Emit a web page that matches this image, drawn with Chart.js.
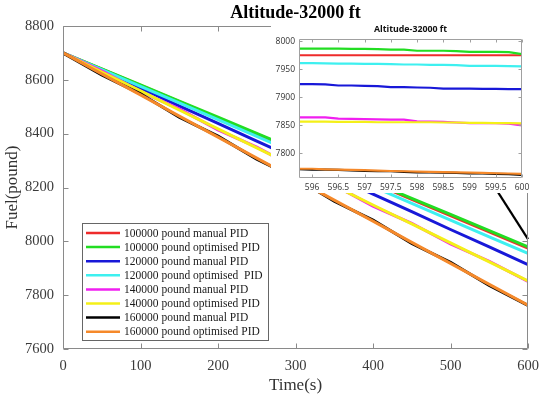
<!DOCTYPE html>
<html><head><meta charset="utf-8">
<script src="https://cdn.jsdelivr.net/npm/chart.js@4.4.0/dist/chart.umd.min.js"></script>
<style>
html,body{margin:0;padding:0;background:#fff;}
#wrap{position:relative;width:550px;height:396px;overflow:hidden;}
#main{position:absolute;left:0;top:0;width:550px;height:396px;}
#inset{position:absolute;left:271px;top:23px;width:279px;height:170px;background:#fff;}
</style></head><body>
<div id="wrap"><canvas id="main" width="550" height="396"></canvas><canvas id="inset" width="279" height="170"></canvas></div>
<script>
// ---- main chart data (time in s, fuel in pound) ----
const timeMain = [0, 50, 100, 150, 200, 250, 300, 350, 400, 450, 500, 550, 600];
const red100kManual    = [8700, 8640, 8579, 8519, 8458, 8398, 8338, 8277, 8217, 8156, 8096, 8035, 7975];
const green100kOpt     = [8700, 8641, 8581, 8521, 8461, 8401, 8341, 8280, 8220, 8160, 8100, 8040, 7979];
const blue120kManual   = [8700, 8634, 8569, 8503, 8438, 8372, 8307, 8241, 8175, 8110, 8044, 7979, 7913];
const cyan120kOpt      = [8700, 8638, 8576, 8514, 8452, 8390, 8328, 8265, 8203, 8141, 8079, 8017, 7955];
const magenta140kManual= [8700, 8633, 8556, 8492, 8414, 8350, 8273, 8209, 8131, 8067, 7990, 7926, 7851];
const yellow140kOpt    = [8700, 8629, 8559, 8488, 8418, 8347, 8277, 8206, 8135, 8065, 7994, 7924, 7853];
const black160kManual  = [8700, 8618, 8548, 8461, 8391, 8305, 8235, 8149, 8079, 7992, 7922, 7836, 7762];
const orange160kOpt    = [8700, 8622, 8544, 8465, 8387, 8309, 8231, 8153, 8075, 7996, 7918, 7840, 7763];
const mainXTicks = [0, 100, 200, 300, 400, 500, 600];
const mainYTicks = [7600, 7800, 8000, 8200, 8400, 8600, 8800];
// zoom pointer line (main chart coordinates)
const pointerX = [561, 600];
const pointerY = [8184, 8008];

// ---- inset data (zoom on 595.75 .. 600 s) ----
const timeInset = [595.75, 596, 596.25, 596.5, 596.75, 597, 597.25, 597.5, 597.75, 598, 598.25, 598.5, 598.75, 599, 599.25, 599.5, 599.75, 600];
const redInset     = [7975, 7975, 7975, 7975, 7975, 7975, 7975, 7975, 7975, 7975, 7975, 7975, 7975, 7975, 7975, 7975, 7975, 7975];
const greenInset   = [7987, 7987, 7987, 7987, 7986.5, 7986.5, 7986, 7985, 7985, 7983, 7983, 7983, 7982.5, 7981, 7981, 7981, 7980.5, 7977];
const blueInset    = [7923.5, 7923.5, 7923, 7921, 7921, 7920.5, 7920, 7918, 7918, 7917.5, 7917, 7915.5, 7915.5, 7915.5, 7915, 7915, 7914.5, 7914.5];
const cyanInset    = [7961, 7961, 7960.5, 7960, 7960, 7959.5, 7959.5, 7959, 7958.5, 7958.5, 7958, 7958, 7957.5, 7956, 7956, 7956, 7955.5, 7955];
const magentaInset = [7864, 7864, 7864, 7862, 7861.5, 7861, 7860.5, 7860, 7860, 7857, 7856.5, 7856, 7855, 7854, 7854, 7854, 7853, 7850];
const yellowInset  = [7856.5, 7856.5, 7856.5, 7856, 7856, 7856, 7855.5, 7855.5, 7855.5, 7855.5, 7855.5, 7855, 7855, 7854.5, 7854.5, 7854, 7854, 7853.5];
const blackInset   = [7772, 7771, 7771, 7770.5, 7769.5, 7768.5, 7768, 7768, 7767, 7766, 7766, 7765.5, 7765, 7764, 7764, 7763.5, 7763, 7761.5];
const orangeInset  = [7772.5, 7772.5, 7771.5, 7771, 7770.5, 7770, 7769, 7768.5, 7768, 7767.5, 7767, 7766.5, 7766, 7765.5, 7765, 7764.5, 7764, 7763.5];
const insetXTicks = [596, 596.5, 597, 597.5, 598, 598.5, 599, 599.5, 600];
const insetYTicks = [7800, 7850, 7900, 7950, 8000];

const seriesLabels = ['100000 pound manual PID', '100000 pound optimised PID', '120000 pound manual PID', '120000 pound optimised  PID',
  '140000 pound manual PID', '140000 pound optimised PID', '160000 pound manual PID', '160000 pound optimised PID'];
const seriesColors = ['#ee2b2b', '#22dd22', '#1818d8', '#3ef0f0', '#f01ff0', '#f4f018', '#000000', '#f5892a'];

const mainSeries = [red100kManual, green100kOpt, blue120kManual, cyan120kOpt, magenta140kManual, yellow140kOpt, black160kManual, orange160kOpt];
const insetSeries = [redInset, greenInset, blueInset, cyanInset, magentaInset, yellowInset, blackInset, orangeInset];

const pairs = (xs, ys) => xs.map((x, i) => ({x: x, y: ys[i]}));
const fixedTicks = list => s => { s.ticks = list.map(v => ({value: v})); };

const decor = {
  id: 'decor',
  afterDraw(chart, args, o) {
    const {ctx, chartArea: a, scales} = chart;
    const x = scales.x, y = scales.y;
    ctx.save();
    ctx.strokeStyle = o.frameColor; ctx.lineWidth = 1;
    const l = Math.round(a.left) + 0.5, t = Math.round(a.top) + 0.5, r = Math.round(a.right) - 0.5, b = Math.round(a.bottom) - 0.5;
    ctx.beginPath();
    ctx.rect(l, t, r - l, b - t);
    const L = o.tickLen;
    x.ticks.forEach(tk => { const p = Math.round(x.getPixelForValue(tk.value)) + 0.5; ctx.moveTo(p, b); ctx.lineTo(p, b - L); ctx.moveTo(p, t); ctx.lineTo(p, t + L); });
    y.ticks.forEach(tk => { const p = Math.round(y.getPixelForValue(tk.value)) + 0.5; ctx.moveTo(l, p); ctx.lineTo(l + L, p); ctx.moveTo(r, p); ctx.lineTo(r - L, p); });
    ctx.stroke();
    ctx.fillStyle = o.titleColor; ctx.font = o.titleFont; ctx.textAlign = 'center'; ctx.textBaseline = 'middle';
    ctx.fillText(o.title, (a.left + a.right) / 2, o.titleY);
    ctx.restore();
  }
};

const boxLegend = {
  id: 'boxLegend',
  afterDraw(chart, args, o) {
    if (!o.show) return;
    const ctx = chart.ctx;
    ctx.save();
    ctx.fillStyle = '#fff'; ctx.fillRect(o.x, o.y, o.w, o.h);
    ctx.strokeStyle = '#666'; ctx.lineWidth = 1;
    ctx.strokeRect(o.x + 0.5, o.y + 0.5, o.w, o.h);
    ctx.font = o.font; ctx.textBaseline = 'middle'; ctx.textAlign = 'left'; ctx.fillStyle = '#1a1a1a';
    chart.data.datasets.filter(d => d.inLegend).forEach((d, i) => {
      const yy = o.y + o.first + i * o.row;
      ctx.strokeStyle = d.borderColor; ctx.lineWidth = 2.5;
      ctx.beginPath(); ctx.moveTo(o.x + 4, yy); ctx.lineTo(o.x + 4 + o.lineLen, yy); ctx.stroke();
      ctx.fillText(d.label, o.x + 8 + o.lineLen, yy + 0.5);
    });
    ctx.restore();
  }
};

const serif = "'Liberation Serif', 'Times New Roman', serif";
const sans = "'Open Sans', 'Noto Sans', sans-serif";
const plain = v => String(v);

const mainDatasets = mainSeries.map((s, i) => ({
  label: seriesLabels[i], data: pairs(timeMain, s), borderColor: seriesColors[i], backgroundColor: seriesColors[i],
  borderWidth: 3, pointRadius: 0, tension: 0, order: 8 - i, inLegend: true
}));
mainDatasets.push({label: 'pointer', data: pairs(pointerX, pointerY), borderColor: '#000', borderWidth: 2.2, pointRadius: 0, order: 0, inLegend: false, clip: false});

new Chart(document.getElementById('main'), {
  type: 'line',
  data: {datasets: mainDatasets},
  options: {
    responsive: false, animation: false, events: [],
    layout: {padding: {top: 26, right: 22, left: 0, bottom: 0}},
    plugins: {
      legend: {display: false}, tooltip: {enabled: false},
      decor: {title: 'Altitude-32000 ft', titleFont: 'bold 18px ' + serif, titleColor: '#000', titleY: 13.5, frameColor: '#8a8a8a', tickLen: 5},
      boxLegend: {show: true, x: 82, y: 223, w: 186, h: 117, first: 10, row: 14.1, lineLen: 34, font: '11.5px ' + serif}
    },
    scales: {
      x: {type: 'linear', min: 0, max: 600, afterBuildTicks: fixedTicks(mainXTicks),
        ticks: {font: {family: serif, size: 14.5}, color: '#3a3a3a', padding: 8, maxRotation: 0, autoSkip: false, callback: plain},
        grid: {display: false, drawTicks: false}, border: {display: false},
        title: {display: true, text: 'Time(s)', font: {family: serif, size: 17, lineHeight: 1}, color: '#333', padding: {top: 0, bottom: 2}},
        afterFit: s => { s.height = 47; }
      },
      y: {type: 'linear', min: 7600, max: 8800, afterBuildTicks: fixedTicks(mainYTicks),
        ticks: {font: {family: serif, size: 14.5}, color: '#3a3a3a', padding: 9, autoSkip: false, callback: plain},
        grid: {display: false, drawTicks: false}, border: {display: false},
        title: {display: true, text: 'Fuel(pound)', font: {family: serif, size: 17, lineHeight: 1}, color: '#333', padding: {top: 4, bottom: 0}},
        afterFit: s => { s.width = 63; }
      }
    }
  },
  plugins: [decor, boxLegend]
});

const insetDatasets = insetSeries.map((s, i) => ({
  label: seriesLabels[i], data: pairs(timeInset, s), borderColor: seriesColors[i], backgroundColor: seriesColors[i],
  borderWidth: 2.2, pointRadius: 0, tension: 0, order: 8 - i
}));

new Chart(document.getElementById('inset'), {
  type: 'line',
  data: {datasets: insetDatasets},
  options: {
    responsive: false, animation: false, events: [],
    layout: {padding: {top: 16, right: 28, left: 0, bottom: 0}},
    plugins: {
      legend: {display: false}, tooltip: {enabled: false},
      decor: {title: 'Altitude-32000 ft', titleFont: 'bold 8.8px ' + sans, titleColor: '#111', titleY: 6.5, frameColor: '#a0a0a0', tickLen: 3},
      boxLegend: {show: false}
    },
    scales: {
      x: {type: 'linear', min: 595.75, max: 600, afterBuildTicks: fixedTicks(insetXTicks),
        ticks: {font: {family: sans, size: 8.5}, color: '#333', padding: 4, maxRotation: 0, autoSkip: false, callback: plain},
        grid: {display: false, drawTicks: false}, border: {display: false},
        afterFit: s => { s.height = 15; }
      },
      y: {type: 'linear', min: 7756, max: 8004, afterBuildTicks: fixedTicks(insetYTicks),
        ticks: {font: {family: sans, size: 8.5}, color: '#333', padding: 4, autoSkip: false, callback: plain},
        grid: {display: false, drawTicks: false}, border: {display: false},
        afterFit: s => { s.width = 28; }
      }
    }
  },
  plugins: [decor]
});
</script></body></html>
